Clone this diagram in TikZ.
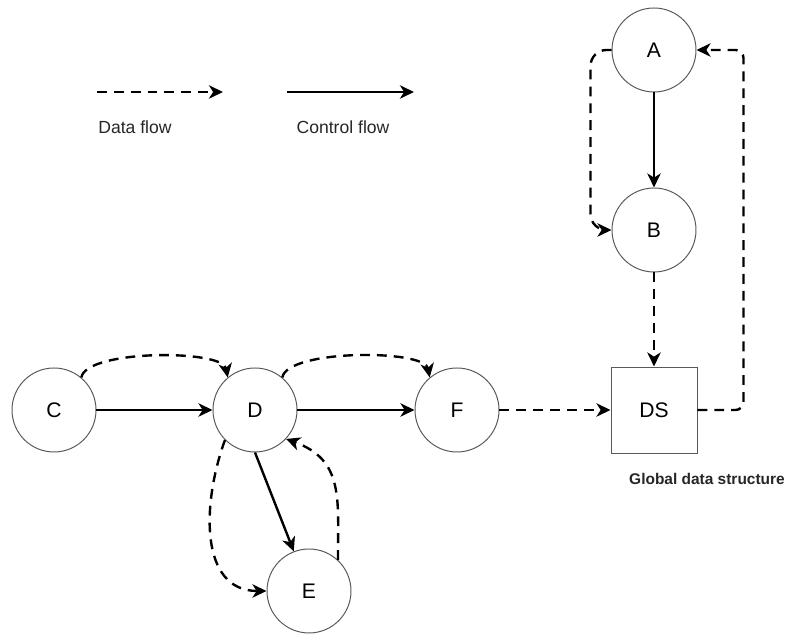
\documentclass[tikz,border=0pt]{standalone}
\usepackage{fontspec}
\setmainfont{Liberation Sans}
\usetikzlibrary{arrows.meta}

\begin{document}
\begin{tikzpicture}[
    state/.style={circle,draw=black!65,line width=0.7pt,minimum size=2.1cm,inner sep=0pt,
                  font=\fontsize{15}{18}\selectfont},
    store/.style={rectangle,draw=black!65,line width=0.7pt,minimum size=2.15cm,inner sep=0pt,
                  font=\fontsize{15}{18}\selectfont},
    caption/.style={font=\fontsize{12.5}{15}\selectfont,text=black!85},
    control/.style={line width=1.7pt,-{Stealth[length=10pt,width=9.5pt,inset=3pt]}},
    data/.style={control,dash pattern=on 7pt off 5pt}
  ]
  \useasboundingbox (0,0) rectangle (19.675,15.85);

  % Legend
  \coordinate (d0) at (2.425,13.55);
  \coordinate (d1) at (5.575,13.55);
  \coordinate (c0) at (7.175,13.55);
  \coordinate (c1) at (10.35,13.55);
  \draw[data] (d0) -- (d1);
  \draw[control] (c0) -- (c1);
  \node[caption] (datalbl) at (3.375,12.675) {Data flow};
  \node[caption] (ctrllbl) at (8.575,12.675) {Control flow};

  % Nodes
  \node[state] (A) at (16.35,14.6) {A};
  \node[state] (B) at (16.35,10.1) {B};
  \node[state] (C) at (1.35,5.6) {C};
  \node[state] (D) at (6.375,5.6) {D};
  \node[state] (F) at (11.425,5.6) {F};
  \node[state] (E) at (7.725,1.075) {E};
  \node[store] (DS) at (16.35,5.6) {DS};
  \node[caption,font=\fontsize{11}{13}\selectfont\bfseries,anchor=north] (dslbl)
    at (17.675,4.15) {Global data structure};

  % Control flow
  \draw[control] (A.south) -- (B.north);
  \draw[control] (C.east) -- (D.west);
  \draw[control] (D.east) -- (F.west);
  \draw[control] (D.south) -- (E.111);

  % Data flow
  \draw[data] (C.50) to[out=80,in=100,looseness=0.5] (D.130);
  \draw[data] (D.50) to[out=80,in=100,looseness=0.5] (F.130);
  \draw[data] (F.east) -- (DS.west);
  \draw[data] (B.south) -- (DS.north);
  \draw[data,rounded corners=0.2cm] (DS.east) -- ++(1.15,0) |- (A.east);
  \draw[data,rounded corners=0.4cm] (A.west) -- ++(-0.525,0) |- (B.west);
  \draw[data] (D.225) to[out=250,in=180,looseness=1.1] (E.west);
  \draw[data] (E.47) to[out=90,in=-20,looseness=1.2] (D.317);
\end{tikzpicture}
\end{document}
